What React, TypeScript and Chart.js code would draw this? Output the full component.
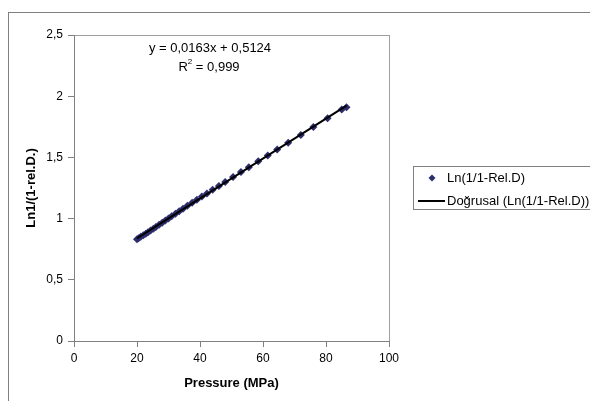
import React, { useEffect, useRef } from "react";
import { Chart, registerables } from "chart.js";

Chart.register(...registerables);

const pressure = [20, 20.5, 21.2, 22, 22.8, 23.5, 24.3, 25.2, 26, 27, 28, 29, 30, 31, 32.2, 33.4, 34.6, 36, 37.5, 39, 40.6, 42.2, 44, 46, 48, 50.5, 53, 55.5, 58.5, 61.5, 64.5, 68, 72, 76, 80.5, 85, 86.5];
const lnValues = [0.832, 0.84, 0.851, 0.864, 0.877, 0.889, 0.902, 0.918, 0.932, 0.949, 0.966, 0.984, 1.001, 1.019, 1.04, 1.06, 1.08, 1.104, 1.129, 1.154, 1.18, 1.206, 1.235, 1.267, 1.299, 1.339, 1.38, 1.42, 1.468, 1.516, 1.564, 1.62, 1.684, 1.748, 1.82, 1.892, 1.91];
const slope = 0.0163;
const intercept = 0.5124;
const seriesLabel = "Ln(1/1-Rel.D)";
const trendLabel = "Doğrusal (Ln(1/1-Rel.D))";
const equationText = "y = 0,0163x + 0,5124";
const xTitle = "Pressure (MPa)";
const yTitle = "Ln1/(1-rel.D.)";

const FONT = "'Liberation Sans', Arial, sans-serif";
const MARKER = "#2d2d6e";
const AXIS = "#808080";

export default function App() {
  const ref = useRef<HTMLCanvasElement | null>(null);
  useEffect(() => {
    if (!ref.current) return;
    const xMin = Math.min(...pressure);
    const xMax = Math.max(...pressure);
    const decor = {
      id: "decor",
      beforeDraw(chart: any) {
        const ctx = chart.ctx;
        ctx.save();
        ctx.fillStyle = "#fff";
        ctx.fillRect(0, 0, chart.width, chart.height);
        ctx.strokeStyle = AXIS;
        ctx.lineWidth = 1;
        ctx.strokeRect(8.5, 12.5, 700, 500);
        const a = chart.chartArea;
        ctx.strokeStyle = "#a0a0a0";
        ctx.strokeRect(a.left + 0.5, a.top + 0.5, a.right - a.left, a.bottom - a.top);
        ctx.restore();
      },
      afterDraw(chart: any) {
        const ctx = chart.ctx;
        ctx.save();
        ctx.fillStyle = "#000";
        ctx.font = "13px " + FONT;
        ctx.textAlign = "center";
        ctx.textBaseline = "middle";
        ctx.fillText(equationText, 210, 48);
        // R² line
        const r1 = "R";
        const r2 = " = 0,999";
        const w1 = ctx.measureText(r1).width;
        ctx.font = "8px " + FONT;
        const ws = ctx.measureText("2").width;
        ctx.font = "13px " + FONT;
        const w2 = ctx.measureText(r2).width;
        const total = w1 + ws + w2;
        const sx = 209 - total / 2;
        ctx.textAlign = "left";
        ctx.fillText(r1, sx, 67);
        ctx.font = "8px " + FONT;
        ctx.fillText("2", sx + w1, 62);
        ctx.font = "13px " + FONT;
        ctx.fillText(r2, sx + w1 + ws, 67);

        // legend
        ctx.strokeStyle = AXIS;
        ctx.lineWidth = 1;
        ctx.strokeRect(413.5, 166.5, 300, 43);
        ctx.fillStyle = MARKER;
        ctx.beginPath();
        ctx.moveTo(432, 174.5);
        ctx.lineTo(435.5, 178);
        ctx.lineTo(432, 181.5);
        ctx.lineTo(428.5, 178);
        ctx.closePath();
        ctx.fill();
        ctx.fillStyle = "#000";
        ctx.textBaseline = "middle";
        ctx.fillText(seriesLabel, 447, 178);
        ctx.strokeStyle = "#000";
        ctx.lineWidth = 2;
        ctx.beginPath();
        ctx.moveTo(418, 201);
        ctx.lineTo(445, 201);
        ctx.stroke();
        ctx.fillText(trendLabel, 447, 201);
        ctx.restore();
      },
    };
    const chart = new Chart(ref.current, {
      type: "scatter",
      data: {
        datasets: [
          {
            label: trendLabel,
            type: "line",
            data: [
              { x: xMin, y: slope * xMin + intercept },
              { x: xMax, y: slope * xMax + intercept },
            ],
            borderColor: "#000",
            borderWidth: 2,
            pointRadius: 0,
            fill: false,
            order: 1,
          } as any,
          {
            label: seriesLabel,
            data: pressure.map((x, i) => ({ x, y: lnValues[i] })),
            backgroundColor: MARKER,
            borderColor: MARKER,
            pointStyle: "rectRot",
            pointRadius: 4,
            borderWidth: 0,
            order: 2,
          },
        ],
      },
      options: {
        animation: false,
        responsive: false,
        layout: { padding: { top: 35, right: 201, left: 0, bottom: 0 } },
        plugins: { legend: { display: false }, tooltip: { enabled: false } },
        scales: {
          x: {
            type: "linear",
            min: 0,
            max: 100,
            ticks: { stepSize: 20, color: "#000", font: { family: FONT, size: 12 }, padding: 4 },
            grid: { drawOnChartArea: false, color: AXIS, tickLength: 6 },
            border: { color: AXIS },
            title: {
              display: true,
              text: xTitle,
              color: "#000",
              font: { family: FONT, size: 13, weight: "bold" },
              padding: { top: 0, bottom: 10 },
            },
            afterFit(scale: any) {
              scale.height = 60;
            },
          },
          y: {
            type: "linear",
            min: 0,
            max: 2.5,
            ticks: {
              stepSize: 0.5,
              color: "#000",
              font: { family: FONT, size: 12 },
              padding: 5,
              callback: (v: any) => String(v).replace(".", ","),
            },
            grid: { drawOnChartArea: false, color: AXIS, tickLength: 6 },
            border: { color: AXIS },
            title: {
              display: true,
              text: yTitle,
              color: "#000",
              font: { family: FONT, size: 13, weight: "bold" },
              padding: { top: 24, bottom: 0 },
            },
            afterFit(scale: any) {
              scale.width = 74;
            },
          },
        },
      },
      plugins: [decor],
    });
    return () => chart.destroy();
  }, []);
  return (
    <div style={{ position: "absolute", left: 0, top: 0, width: 590, height: 401 }}>
      <canvas ref={ref} width={590} height={401} style={{ width: 590, height: 401, display: "block" }} />
    </div>
  );
}
